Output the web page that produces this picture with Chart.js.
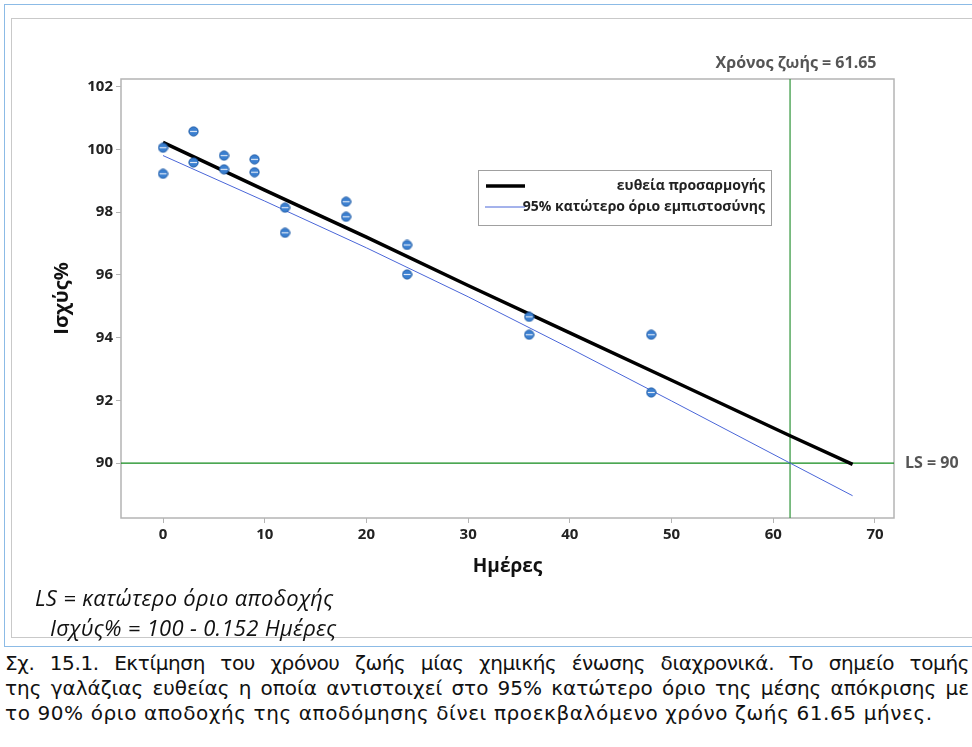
<!DOCTYPE html>
<html>
<head>
<meta charset="utf-8">
<script src="https://cdn.jsdelivr.net/npm/chart.js@4/dist/chart.umd.min.js"></script>
<style>
  html, body { margin: 0; padding: 0; background: #fff; }
  body { width: 972px; height: 747px; position: relative; overflow: hidden; }
  .outer { position: absolute; left: 4px; top: 4px; width: 990px; height: 643px; border: 1px solid #8cbbe6; box-sizing: border-box; }
  .inner { position: absolute; left: 11px; top: 18px; width: 990px; height: 620px; border: 1px solid #c9c9c9; box-sizing: border-box; }
  #wrap { position: absolute; left: 0; top: 0; width: 972px; height: 640px; }
  .note { position: absolute; font-family: "Open Sans", sans-serif; font-style: italic; font-size: 22px; letter-spacing: 0.3px; line-height: 30px; color: #111; white-space: nowrap; }
  .caption { position: absolute; left: 5px; top: 651px; width: 964px; font-family: "DejaVu Sans", sans-serif; font-size: 20px; letter-spacing: 0px; line-height: 25px; color: #111; }
  .caption div { text-align: justify; text-align-last: justify; white-space: nowrap; }
  .caption div.first { letter-spacing: -0.4px; }
  .caption div.last { text-align-last: left; letter-spacing: 0.6px; }
</style>
</head>
<body>
<div class="outer"></div>
<div class="inner"></div>
<div id="wrap"><canvas id="chart" width="972" height="640"></canvas></div>
<div class="note" style="left:35px; top:582px;">LS = κατώτερο όριο αποδοχής</div>
<div class="note" style="left:50px; top:612px;">Ισχύς% = 100 - 0.152 Ημέρες</div>
<div class="caption">
  <div class="first">Σχ. 15.1. Εκτίμηση του χρόνου ζωής μίας χημικής ένωσης διαχρονικά. Το σημείο τομής</div>
  <div>της γαλάζιας ευθείας η οποία αντιστοιχεί στο 95% κατώτερο όριο της μέσης απόκρισης με</div>
  <div class="last">το 90% όριο αποδοχής της αποδόμησης δίνει προεκβαλόμενο χρόνο ζωής 61.65 μήνες.</div>
</div>
<script>
const xTicks = [0, 10, 20, 30, 40, 50, 60, 70];
const yTicks = [90, 92, 94, 96, 98, 100, 102];
const xRange = [-4.13, 71.87];
const yRange = [88.25, 102.24];

const days = [0, 0, 3, 3, 6, 6, 9, 9, 12, 12, 18, 18, 24, 24, 36, 36, 48, 48];
const potency = [100.05, 99.22, 100.57, 99.58, 99.8, 99.36, 99.68, 99.27, 98.14, 97.34, 98.33, 97.85, 96.95, 96.01, 94.66, 94.09, 94.09, 92.25];

const fitDays = [0, 10, 20, 30, 40, 50, 61.65, 67.8];
const fitValues = [100.22, 98.7, 97.2, 95.66, 94.15, 92.64, 90.87, 89.96];
const lowerValues = [99.8, 98.35, 96.86, 95.3, 93.66, 91.98, 90.0, 88.96];

const lsValue = 90;
const shelfLife = 61.65;

const legendLabels = ['ευθεία προσαρμογής', '95% κατώτερο όριο εμπιστοσύνης'];
const shelfLabel = 'Χρόνος ζωής = 61.65';
const lsLabel = 'LS = 90';

const FONT = '"Open Sans", sans-serif';

// circle marker with a light stripe through the middle
function makeMarker() {
  const c = document.createElement('canvas');
  c.width = 11; c.height = 11;
  const g = c.getContext('2d');
  g.beginPath();
  g.arc(5.5, 5.5, 4.6, 0, Math.PI * 2);
  g.fillStyle = '#3a7fd0';
  g.fill();
  g.lineWidth = 1;
  g.strokeStyle = '#1d5aa6';
  g.stroke();
  g.beginPath();
  g.moveTo(2, 5.5); g.lineTo(9, 5.5);
  g.strokeStyle = '#dfe9f7';
  g.lineWidth = 1.2;
  g.stroke();
  return c;
}

const annotations = {
  id: 'annotations',
  beforeDatasetsDraw(chart) {
    const { ctx, chartArea: a } = chart;
    ctx.save();
    ctx.strokeStyle = '#b4b4b4';
    ctx.lineWidth = 1.5;
    ctx.strokeRect(a.left, a.top, a.right - a.left, a.bottom - a.top);
    ctx.restore();
  },
  afterDraw(chart) {
    const { ctx, chartArea: a, scales } = chart;
    ctx.save();
    ctx.fillStyle = '#555';
    ctx.font = 'bold 16px ' + FONT;
    ctx.textBaseline = 'middle';
    ctx.textAlign = 'center';
    ctx.fillText(shelfLabel, scales.x.getPixelForValue(shelfLife) + 6, a.top - 16);
    ctx.textAlign = 'left';
    ctx.fillText(lsLabel, a.right + 11, scales.y.getPixelForValue(lsValue));

    // legend box
    const bx = 478, by = 170, bw = 293, bh = 55;
    ctx.fillStyle = '#fff';
    ctx.fillRect(bx, by, bw, bh);
    ctx.strokeStyle = '#a0a0a0';
    ctx.lineWidth = 1;
    ctx.strokeRect(bx + 0.5, by + 0.5, bw, bh);
    ctx.strokeStyle = '#000';
    ctx.lineWidth = 3.5;
    ctx.beginPath(); ctx.moveTo(486, 186); ctx.lineTo(525, 186); ctx.stroke();
    ctx.fillStyle = '#222';
    ctx.font = 'bold 14px ' + FONT;
    ctx.textAlign = 'right';
    ctx.fillText(legendLabels[0], 765, 186);
    ctx.fillText(legendLabels[1], 765, 207);
    ctx.strokeStyle = '#4a66d8';
    ctx.lineWidth = 1;
    ctx.beginPath(); ctx.moveTo(485, 207); ctx.lineTo(525, 207); ctx.stroke();
    ctx.restore();
  }
};

const scatterPts = days.map((d, i) => ({ x: d, y: potency[i] }));
const fitPts = fitDays.map((d, i) => ({ x: d, y: fitValues[i] }));
const lowerPts = fitDays.map((d, i) => ({ x: d, y: lowerValues[i] }));

new Chart(document.getElementById('chart'), {
  type: 'scatter',
  data: {
    datasets: [
      {
        label: 'data',
        data: scatterPts,
        pointStyle: makeMarker(),
        pointRadius: 5,
        order: 0,
      },
      {
        label: legendLabels[0],
        data: fitPts,
        showLine: true,
        borderColor: '#000',
        borderWidth: 3.5,
        pointRadius: 0,
        order: 1,
      },
      {
        label: legendLabels[1],
        data: lowerPts,
        showLine: true,
        borderColor: '#4a66d8',
        borderWidth: 1,
        pointRadius: 0,
        order: 2,
      },
      {
        label: 'LS',
        data: [{ x: xRange[0], y: lsValue }, { x: xRange[1], y: lsValue }],
        showLine: true,
        borderColor: '#118a1a',
        borderWidth: 1.3,
        pointRadius: 0,
        order: 3,
      },
      {
        label: 'shelf',
        data: [{ x: shelfLife, y: yRange[0] }, { x: shelfLife, y: yRange[1] }],
        showLine: true,
        borderColor: '#3c9b46',
        borderWidth: 1.3,
        pointRadius: 0,
        order: 3,
      },
    ],
  },
  plugins: [annotations],
  options: {
    responsive: false,
    animation: false,
    layout: { padding: { left: 0, top: 79, right: 78, bottom: 0 } },
    plugins: { legend: { display: false }, tooltip: { enabled: false } },
    scales: {
      x: {
        type: 'linear',
        min: xRange[0],
        max: xRange[1],
        afterBuildTicks: s => { s.ticks = xTicks.map(v => ({ value: v })); },
        afterFit: s => { s.height = 122; },
        grid: { drawOnChartArea: false, tickLength: 5, color: '#b4b4b4' },
        border: { display: false },
        ticks: { padding: 3, color: '#222', font: { family: FONT, size: 15, weight: 'bold' } },
        title: {
          display: true,
          text: 'Ημέρες',
          color: '#111',
          font: { family: FONT, size: 19, weight: 'bold' },
          padding: { top: 4, bottom: 62 },
        },
      },
      y: {
        type: 'linear',
        min: yRange[0],
        max: yRange[1],
        afterBuildTicks: s => { s.ticks = yTicks.map(v => ({ value: v })); },
        afterFit: s => { s.width = 121; },
        grid: { drawOnChartArea: false, tickLength: 5, color: '#b4b4b4' },
        border: { display: false },
        ticks: { padding: 3, color: '#222', font: { family: FONT, size: 15, weight: 'bold' } },
        title: {
          display: true,
          text: 'Ισχύς%',
          color: '#111',
          font: { family: FONT, size: 20, weight: 'bold' },
          padding: { top: 50, bottom: 0 },
        },
      },
    },
  },
});
</script>
</body>
</html>
